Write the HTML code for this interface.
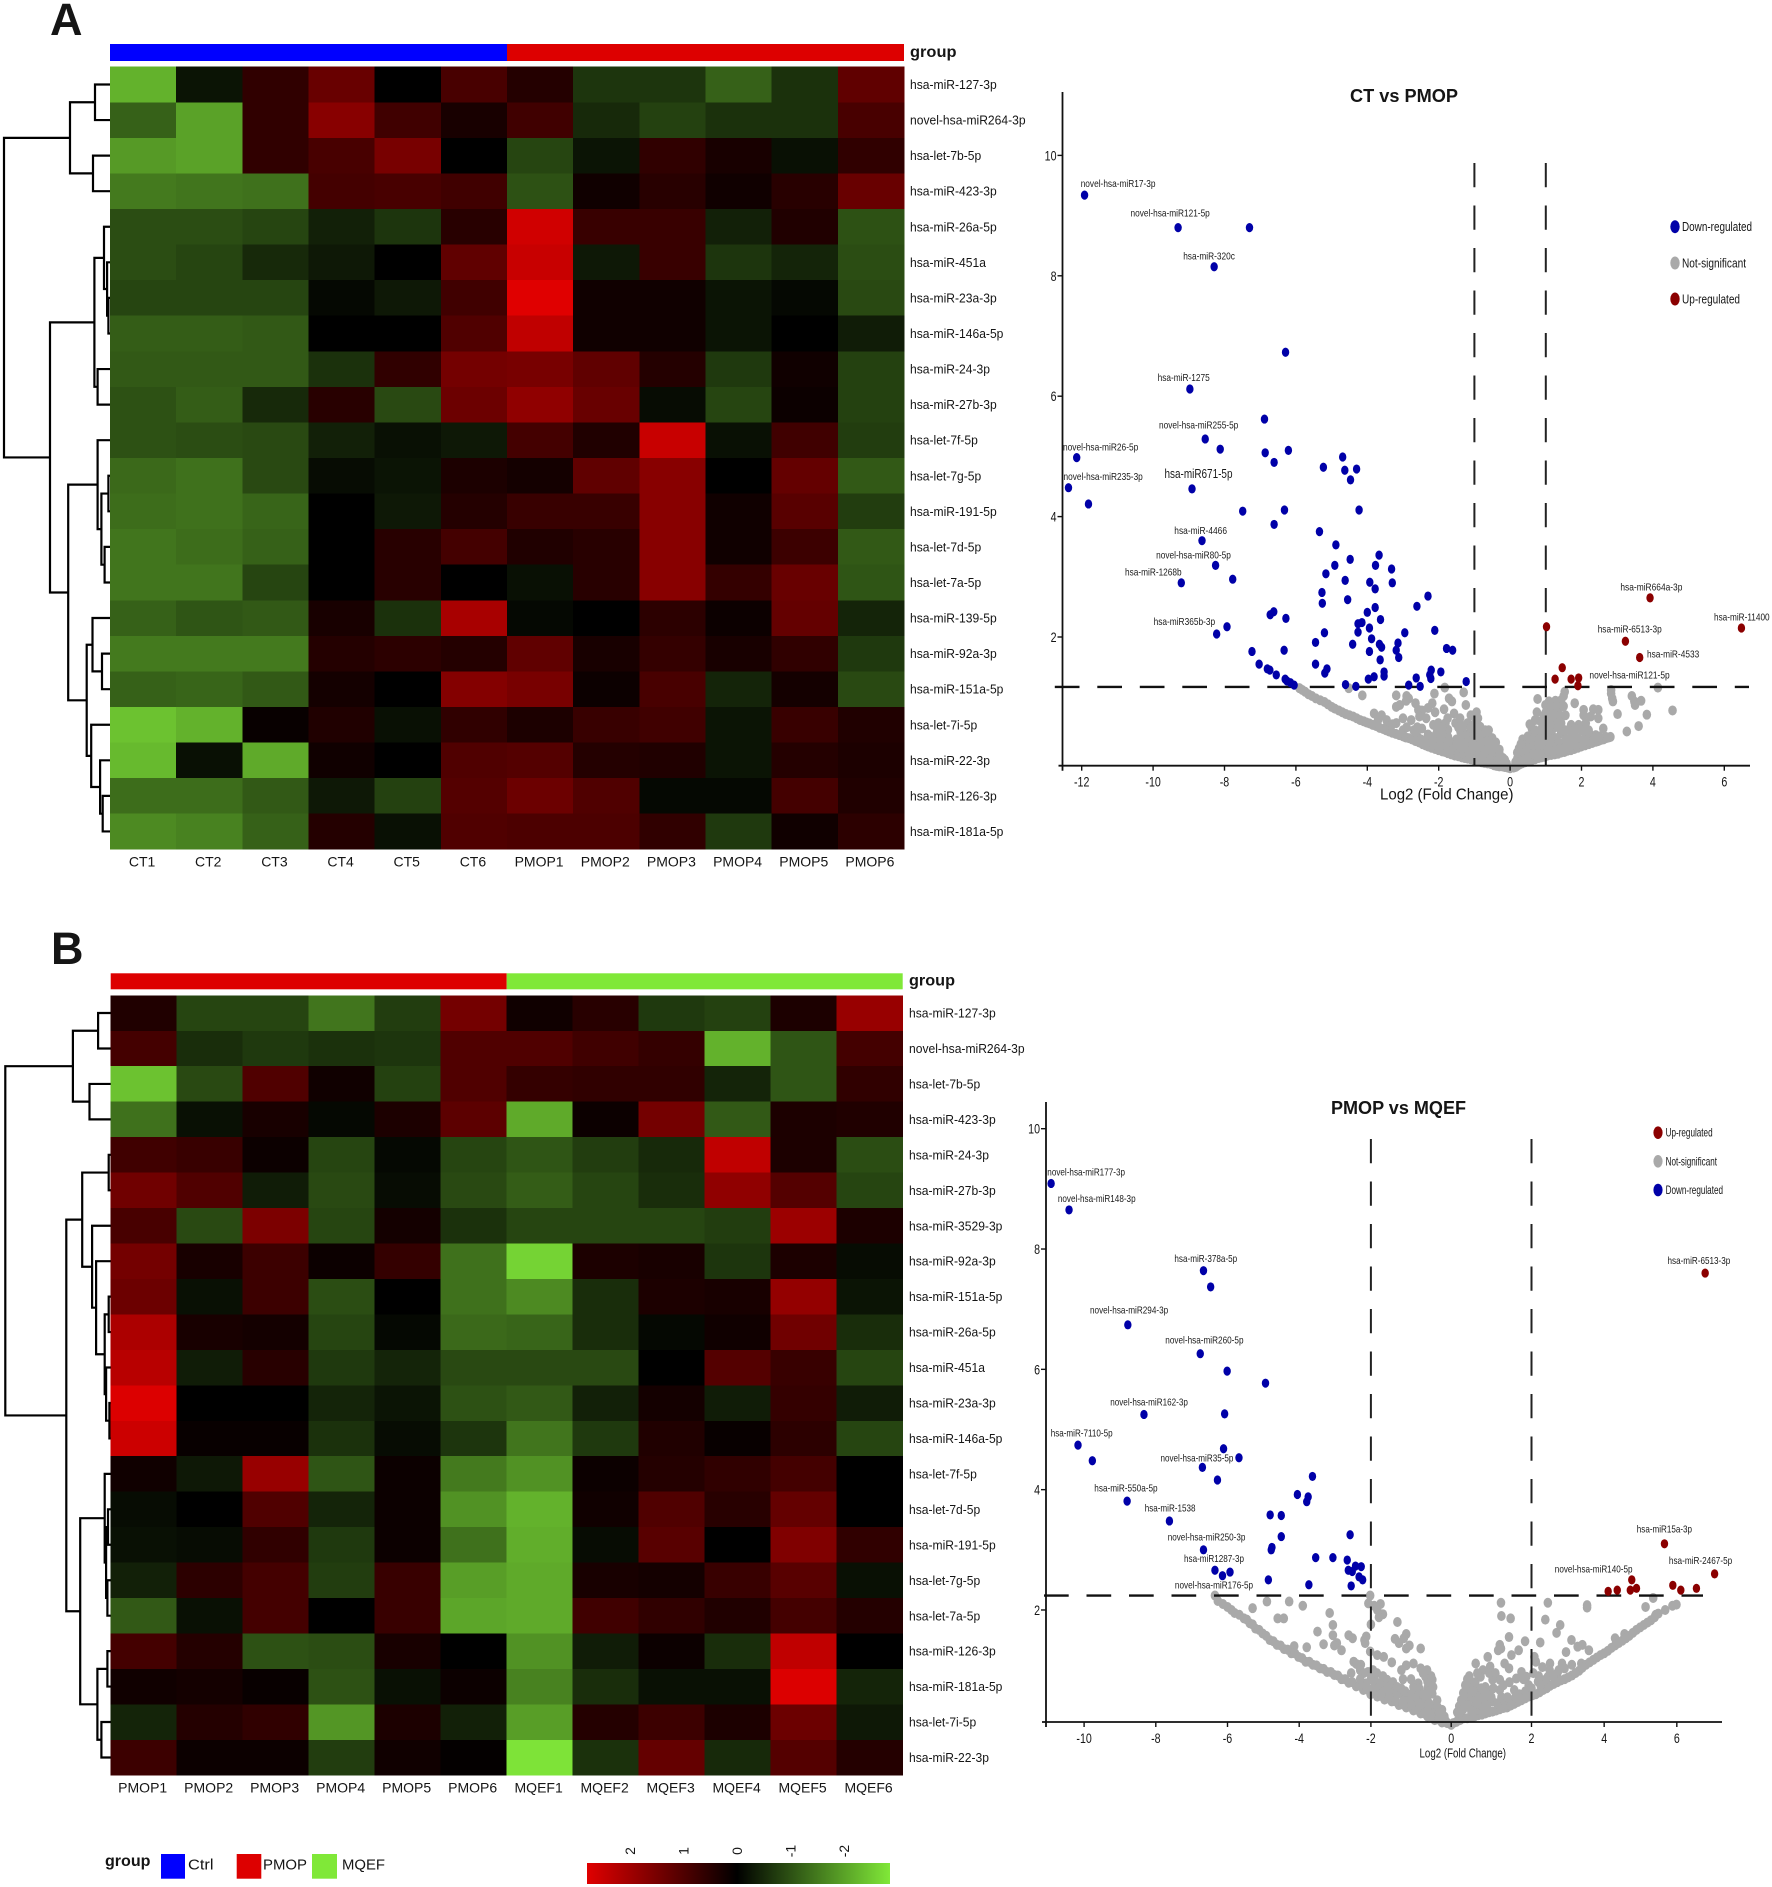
<!DOCTYPE html>
<html lang="en">
<head>
<meta charset="utf-8">
<title>miRNA heatmaps and volcano plots</title>
<style>
html,body{margin:0;padding:0;background:#fff;}
svg{display:block;}
text{font-family:"Liberation Sans",sans-serif;fill:#151515;}
.pl{font-size:10.5px;dominant-baseline:central;fill:#1a1a1a;}
.lg{dominant-baseline:central;}
</style>
</head>
<body>
<svg id="fig" xmlns="http://www.w3.org/2000/svg" width="1772" height="1887" viewBox="0 0 1772 1887">
<defs>
<linearGradient id="cbar" x1="0" x2="1" y1="0" y2="0">
<stop offset="0" stop-color="#e00000"/><stop offset="0.495" stop-color="#000"/><stop offset="1" stop-color="#80e838"/>
</linearGradient>
</defs>
<rect width="1772" height="1887" fill="#fff"/>
<text x="50" y="35" font-size="45" font-weight="bold" fill="#000">A</text>
<text x="51" y="964" font-size="45" font-weight="bold" fill="#000">B</text>

<!-- annotation bars -->
<rect x="110" y="44" width="397" height="17" fill="#0000ff"/>
<rect x="507" y="44" width="397" height="17" fill="#dd0000"/>
<text x="910" y="52.5" font-size="16" font-weight="bold" class="lg" textLength="46.5" lengthAdjust="spacingAndGlyphs">group</text>
<rect x="110.7" y="973.3" width="396" height="16" fill="#dd0000"/>
<rect x="506.7" y="973.3" width="396" height="16" fill="#80e838"/>
<text x="909" y="981" font-size="16" font-weight="bold" class="lg" textLength="46" lengthAdjust="spacingAndGlyphs">group</text>

<g id="heatA"></g>
<g id="heatB"></g>
<g id="treeA" fill="none" stroke="#000" stroke-width="2.2"></g>
<g id="treeB" fill="none" stroke="#000" stroke-width="2.2"></g>
<g id="volA"></g>
<g id="volB"></g>

<!-- volcano A text -->
<text x="1350" y="96" font-size="18" font-weight="bold" class="lg" textLength="108" lengthAdjust="spacingAndGlyphs">CT vs PMOP</text>
<text x="1380" y="795" font-size="16" class="lg" textLength="133.5" lengthAdjust="spacingAndGlyphs">Log2 (Fold Change)</text>
<g>
<ellipse cx="1675" cy="226.7" rx="4.7" ry="6.5" fill="#0000a8"/>
<ellipse cx="1675" cy="263" rx="4.7" ry="6.5" fill="#a9a9a9"/>
<ellipse cx="1675" cy="299" rx="4.7" ry="6.5" fill="#8b0000"/>
<text x="1682" y="226.7" font-size="13" class="lg" textLength="70" lengthAdjust="spacingAndGlyphs">Down-regulated</text>
<text x="1682" y="263" font-size="13" class="lg" textLength="64" lengthAdjust="spacingAndGlyphs">Not-significant</text>
<text x="1682" y="299" font-size="13" class="lg" textLength="58" lengthAdjust="spacingAndGlyphs">Up-regulated</text>
</g>
<g>
<text class="pl" x="1080.7" y="184" textLength="74.8" lengthAdjust="spacingAndGlyphs">novel-hsa-miR17-3p</text>
<text class="pl" x="1130.5" y="213.7" textLength="79.3" lengthAdjust="spacingAndGlyphs">novel-hsa-miR121-5p</text>
<text class="pl" x="1183.2" y="256.3" textLength="51.7" lengthAdjust="spacingAndGlyphs">hsa-miR-320c</text>
<text class="pl" x="1157.6" y="378" textLength="52.2" lengthAdjust="spacingAndGlyphs">hsa-miR-1275</text>
<text class="pl" x="1159" y="425.7" textLength="79.3" lengthAdjust="spacingAndGlyphs">novel-hsa-miR255-5p</text>
<text class="pl" x="1063" y="447.3" textLength="75.3" lengthAdjust="spacingAndGlyphs">novel-hsa-miR26-5p</text>
<text class="pl" x="1063.5" y="477" textLength="79.3" lengthAdjust="spacingAndGlyphs">novel-hsa-miR235-3p</text>
<text class="pl" x="1164.5" y="474" textLength="68" lengthAdjust="spacingAndGlyphs" style="font-size:12.5px">hsa-miR671-5p</text>
<text class="pl" x="1174.3" y="531" textLength="52.7" lengthAdjust="spacingAndGlyphs">hsa-miR-4466</text>
<text class="pl" x="1156.1" y="555.3" textLength="74.8" lengthAdjust="spacingAndGlyphs">novel-hsa-miR80-5p</text>
<text class="pl" x="1125" y="572.3" textLength="56.6" lengthAdjust="spacingAndGlyphs">hsa-miR-1268b</text>
<text class="pl" x="1153.6" y="622" textLength="61.5" lengthAdjust="spacingAndGlyphs">hsa-miR365b-3p</text>
<text class="pl" x="1620.4" y="587.3" textLength="62" lengthAdjust="spacingAndGlyphs">hsa-miR664a-3p</text>
<text class="pl" x="1714" y="617.3" textLength="55.6" lengthAdjust="spacingAndGlyphs">hsa-miR-11400</text>
<text class="pl" x="1597.7" y="629.3" textLength="64" lengthAdjust="spacingAndGlyphs">hsa-miR-6513-3p</text>
<text class="pl" x="1647" y="654.7" textLength="52.2" lengthAdjust="spacingAndGlyphs">hsa-miR-4533</text>
<text class="pl" x="1589.4" y="675.7" textLength="80.3" lengthAdjust="spacingAndGlyphs">novel-hsa-miR121-5p</text>
</g>

<!-- volcano B text -->
<text x="1331" y="1108" font-size="18" font-weight="bold" class="lg" textLength="135" lengthAdjust="spacingAndGlyphs">PMOP vs MQEF</text>
<text x="1419.5" y="1753" font-size="13" class="lg" textLength="86.5" lengthAdjust="spacingAndGlyphs">Log2 (Fold Change)</text>
<g>
<ellipse cx="1658" cy="1132.7" rx="4.6" ry="6.3" fill="#8b0000"/>
<ellipse cx="1658" cy="1161.3" rx="4.6" ry="6.3" fill="#a9a9a9"/>
<ellipse cx="1658" cy="1190" rx="4.6" ry="6.3" fill="#0000a8"/>
<text x="1665.6" y="1132.7" font-size="12" class="lg" textLength="47" lengthAdjust="spacingAndGlyphs">Up-regulated</text>
<text x="1665.6" y="1161.3" font-size="12" class="lg" textLength="51.4" lengthAdjust="spacingAndGlyphs">Not-significant</text>
<text x="1665.6" y="1190" font-size="12" class="lg" textLength="57.4" lengthAdjust="spacingAndGlyphs">Down-regulated</text>
</g>
<g>
<text class="pl" x="1047.3" y="1172.3" textLength="77.7" lengthAdjust="spacingAndGlyphs">novel-hsa-miR177-3p</text>
<text class="pl" x="1057.9" y="1199" textLength="77.7" lengthAdjust="spacingAndGlyphs">novel-hsa-miR148-3p</text>
<text class="pl" x="1174.4" y="1259" textLength="62.8" lengthAdjust="spacingAndGlyphs">hsa-miR-378a-5p</text>
<text class="pl" x="1090" y="1310.7" textLength="78.2" lengthAdjust="spacingAndGlyphs">novel-hsa-miR294-3p</text>
<text class="pl" x="1165.3" y="1340.7" textLength="78.2" lengthAdjust="spacingAndGlyphs">novel-hsa-miR260-5p</text>
<text class="pl" x="1110.2" y="1402.3" textLength="77.7" lengthAdjust="spacingAndGlyphs">novel-hsa-miR162-3p</text>
<text class="pl" x="1050.7" y="1433.3" textLength="61.9" lengthAdjust="spacingAndGlyphs">hsa-miR-7110-5p</text>
<text class="pl" x="1160.5" y="1458.3" textLength="72.9" lengthAdjust="spacingAndGlyphs">novel-hsa-miR35-5p</text>
<text class="pl" x="1094.3" y="1488.7" textLength="63.3" lengthAdjust="spacingAndGlyphs">hsa-miR-550a-5p</text>
<text class="pl" x="1667.5" y="1261" textLength="62.8" lengthAdjust="spacingAndGlyphs">hsa-miR-6513-3p</text>
<text class="pl" x="1144.7" y="1508.3" textLength="50.8" lengthAdjust="spacingAndGlyphs">hsa-miR-1538</text>
<text class="pl" x="1167.7" y="1537.7" textLength="77.7" lengthAdjust="spacingAndGlyphs">novel-hsa-miR250-3p</text>
<text class="pl" x="1184" y="1559" textLength="60" lengthAdjust="spacingAndGlyphs">hsa-miR1287-3p</text>
<text class="pl" x="1174.9" y="1585.3" textLength="78.2" lengthAdjust="spacingAndGlyphs">novel-hsa-miR176-5p</text>
<text class="pl" x="1636.8" y="1529.7" textLength="55.2" lengthAdjust="spacingAndGlyphs">hsa-miR15a-3p</text>
<text class="pl" x="1668.9" y="1561" textLength="63.3" lengthAdjust="spacingAndGlyphs">hsa-miR-2467-5p</text>
<text class="pl" x="1554.8" y="1569.3" textLength="77.7" lengthAdjust="spacingAndGlyphs">novel-hsa-miR140-5p</text>
</g>

<!-- bottom group legend -->
<g>
<text x="105" y="1861.7" font-size="16" font-weight="bold" class="lg" textLength="45.5" lengthAdjust="spacingAndGlyphs">group</text>
<rect x="161" y="1854" width="24" height="24.7" fill="#0000ff"/>
<text x="188" y="1865" font-size="15" class="lg" textLength="25.5" lengthAdjust="spacingAndGlyphs">Ctrl</text>
<rect x="236.7" y="1854" width="24.6" height="24.7" fill="#dd0000"/>
<text x="263" y="1865" font-size="15" class="lg" textLength="44" lengthAdjust="spacingAndGlyphs">PMOP</text>
<rect x="312" y="1854" width="25" height="24.7" fill="#80e838"/>
<text x="342" y="1865" font-size="15" class="lg" textLength="43" lengthAdjust="spacingAndGlyphs">MQEF</text>
</g>
<rect x="587" y="1863" width="303" height="21" fill="url(#cbar)"/>
<g id="cbarTicks"></g>
</svg>

<script>
// ---------- heatmap data ----------
const rowLabelsA = ["hsa-miR-127-3p","novel-hsa-miR264-3p","hsa-let-7b-5p","hsa-miR-423-3p","hsa-miR-26a-5p","hsa-miR-451a","hsa-miR-23a-3p","hsa-miR-146a-5p","hsa-miR-24-3p","hsa-miR-27b-3p","hsa-let-7f-5p","hsa-let-7g-5p","hsa-miR-191-5p","hsa-let-7d-5p","hsa-let-7a-5p","hsa-miR-139-5p","hsa-miR-92a-3p","hsa-miR-151a-5p","hsa-let-7i-5p","hsa-miR-22-3p","hsa-miR-126-3p","hsa-miR-181a-5p"];
const colLabelsA = ["CT1","CT2","CT3","CT4","CT5","CT6","PMOP1","PMOP2","PMOP3","PMOP4","PMOP5","PMOP6"];
const valuesA = [
[-2.2,-.25,.6,1.3,0,.9,.45,-.65,-.65,-1.2,-.6,1.2],
[-1.2,-2.0,.6,1.7,.8,.3,.8,-.5,-.8,-.6,-.6,.9],
[-1.9,-2.0,.6,.9,1.5,0,-.85,-.25,.6,.3,-.2,.6],
[-1.5,-1.45,-1.4,.85,.9,.8,-1.0,.2,.5,.2,.5,1.3],
[-.95,-.95,-.85,-.4,-.65,.5,2.6,.7,.7,-.4,.4,-1],
[-.95,-.85,-.5,-.3,0,1.2,2.5,-.3,.7,-.65,-.45,-.95],
[-.85,-.85,-.85,-.1,-.3,.8,2.8,.2,.2,-.25,-.1,-.9],
[-1.15,-1.15,-1.1,0,0,1.0,2.4,.2,.2,-.25,0,-.35],
[-1.1,-1.1,-1.1,-.6,.6,1.45,1.5,1.2,.45,-.7,.2,-.8],
[-1.0,-1.15,-.5,.5,-.9,1.35,1.8,1.3,-.15,-.85,.15,-.8],
[-1.0,-.95,-.9,-.4,-.2,-.3,.85,.4,2.5,-.2,.8,-.75],
[-1.3,-1.4,-.9,-.15,-.25,.35,.25,1.2,1.7,0,1.25,-1.1],
[-1.35,-1.4,-1.25,0,-.3,.45,.7,.7,1.7,.2,1.1,-.75],
[-1.45,-1.35,-1.2,0,.5,.85,.4,.5,1.7,.2,.75,-1.1],
[-1.45,-1.45,-.85,0,.5,0,-.2,.5,1.7,.65,1.3,-1.05],
[-1.2,-1.05,-1.1,.3,-.6,2.1,-.1,0,.55,.15,1.25,-.45],
[-1.5,-1.5,-1.5,.45,.55,.45,1.2,.3,.65,.3,.6,-.7],
[-1.2,-1.25,-1.1,.25,0,1.65,1.5,.15,.9,-.45,.25,-.9],
[-2.4,-2.2,.1,.4,-.2,.6,.35,.7,.8,-.25,.7,.4],
[-2.3,-.2,-2.1,.2,0,1.0,1.05,.45,.4,-.25,.45,.35],
[-1.35,-1.35,-1.1,-.3,-.8,1.05,1.35,1.0,-.1,-.1,.85,.4],
[-1.7,-1.6,-1.2,.45,-.2,1,.95,.95,.6,-.7,.2,.55]];
const rowLabelsB = ["hsa-miR-127-3p","novel-hsa-miR264-3p","hsa-let-7b-5p","hsa-miR-423-3p","hsa-miR-24-3p","hsa-miR-27b-3p","hsa-miR-3529-3p","hsa-miR-92a-3p","hsa-miR-151a-5p","hsa-miR-26a-5p","hsa-miR-451a","hsa-miR-23a-3p","hsa-miR-146a-5p","hsa-let-7f-5p","hsa-let-7d-5p","hsa-miR-191-5p","hsa-let-7g-5p","hsa-let-7a-5p","hsa-miR-126-3p","hsa-miR-181a-5p","hsa-let-7i-5p","hsa-miR-22-3p"];
const colLabelsB = ["PMOP1","PMOP2","PMOP3","PMOP4","PMOP5","PMOP6","MQEF1","MQEF2","MQEF3","MQEF4","MQEF5","MQEF6"];
const valuesB = [
[.4,-.85,-.85,-1.45,-.75,1.45,.2,.5,-.7,-.8,.35,1.9],
[.85,-.55,-.7,-.6,-.65,1.0,1.0,.8,.65,-2.2,-1.05,.85],
[-2.4,-.9,1.0,.2,-.8,1.0,.65,.6,.6,-.45,-1.05,.6],
[-1.4,-.2,.3,-.1,.35,1.15,-2.1,.15,1.45,-1.1,.35,.4],
[.8,.7,.15,-.85,-.1,-.85,-1.05,-.75,-.5,2.4,.35,-.95],
[1.4,1.0,-.35,-.9,-.15,-.9,-1.15,-.85,-.55,1.8,1.05,-.85],
[.9,-.9,1.55,-.85,.25,-.6,-.85,-.85,-.85,-.75,1.95,.35],
[1.45,.3,.75,.15,.65,-1.4,-2.6,.35,.3,-.65,.35,-.15],
[1.35,-.2,.75,-.95,0,-1.4,-1.7,-.55,.35,.3,1.85,-.25],
[2.15,.3,.25,-.85,-.1,-1.3,-1.25,-.55,-.1,.2,1.4,-.55],
[2.3,-.35,.5,-.7,-.45,-.9,-.9,-.9,0,1.05,.7,-.85],
[2.75,0,0,-.45,-.25,-1.0,-1.1,-.4,.25,-.35,.65,-.35],
[2.55,.1,.1,-.6,-.15,-.65,-1.45,-.7,.4,.1,.55,-.85],
[.2,-.3,1.9,-1.05,.15,-1.5,-1.8,.15,.45,.6,.85,0],
[-.15,0,1.0,-.45,.15,-1.8,-2.2,.2,1.0,.5,1.25,0],
[-.2,-.15,.6,-.7,.15,-1.4,-2.15,-.15,1.1,0,1.6,.6],
[-.4,.55,.85,-.75,.7,-1.95,-2.1,.3,.25,.7,1.1,-.2],
[-1.1,-.2,.85,0,.7,-2.05,-2.1,.8,.6,.4,.85,.45],
[.85,.45,-1.0,-.95,.3,0,-1.8,-.35,.15,-.55,2.4,0],
[.2,.25,.1,-1,-.2,.15,-1.6,-.55,-.2,-.2,2.75,-.45],
[-.45,.45,.6,-1.85,.35,-.4,-1.95,.45,.75,.35,1.35,-.3],
[.75,.15,.15,-.75,.2,.05,-2.8,-.6,1.25,-.5,1.05,.45]];
const colorbarTicks = [2,1,0,-1,-2];

// ---------- dendrograms: [merge distance, left, right]; numbers at leaves are row indices ----------
const treeDataA = [106,[40,[15,0,1],[17,2,3]],[60,[15.6,[6,4,[2.9,5,[1.6,6,7]]],[12.4,8,9]],[41.8,[12.4,10,[8.6,[1.6,11,12],[5.4,13,14]]],[23.3,[17.5,15,[8,16,17]],[18.8,18,[9.9,19,[7.3,20,21]]]]]]];
const treeDataB = [105.4,[37.8,[12.6,0,1],[21.2,2,3]],[44.4,[28.5,[2,4,5],[18.6,6,[14.6,7,[6,[2,8,9],[4.6,10,[1.3,11,12]]]]]],[30.5,[6,13,[4.6,[2.7,14,15],[3.3,16,17]]],[13.3,[3.3,18,19],[9.3,20,21]]]]];

// ---------- volcano A data: [log2FC, -log10 p] ----------
const xTicksA = [-12,-10,-8,-6,-4,-2,0,2,4,6];
const yTicksA = [2,4,6,8,10];
const xCutsA = [-1,1];
const yCutA = 1.17;
const downA = [[-11.92,9.34],[-9.3,8.8],[-7.3,8.8],[-8.29,8.15],[-6.29,6.73],[-8.97,6.12],[-6.88,5.62],[-8.54,5.29],[-8.12,5.12],[-6.86,5.06],[-6.21,5.1],[-12.14,4.98],[-6.61,4.9],[-4.69,4.99],[-5.23,4.82],[-4.63,4.77],[-4.3,4.79],[-4.47,4.61],[-12.37,4.48],[-8.91,4.46],[-11.81,4.21],[-7.49,4.09],[-6.32,4.11],[-4.23,4.11],[-6.61,3.87],[-5.34,3.75],[-8.63,3.6],[-4.88,3.53],[-3.67,3.36],[-4.48,3.29],[-8.25,3.19],[-4.91,3.19],[-3.77,3.19],[-3.32,3.13],[-5.16,3.05],[-4.62,2.94],[-7.77,2.96],[-3.93,2.91],[-3.3,2.9],[-9.21,2.9],[-3.78,2.8],[-5.27,2.74],[-2.3,2.68],[-4.55,2.62],[-5.26,2.56],[-2.61,2.51],[-3.78,2.49],[-4,2.41],[-6.62,2.42],[-6.72,2.37],[-6.28,2.31],[-3.63,2.29],[-4.15,2.24],[-4.26,2.22],[-7.93,2.17],[-3.94,2.15],[-2.11,2.11],[-4.26,2.08],[-5.2,2.07],[-2.95,2.07],[-8.22,2.05],[-3.88,1.97],[-3.14,1.9],[-5.45,1.91],[-4.41,1.88],[-3.66,1.88],[-3.6,1.83],[-1.78,1.81],[-1.61,1.78],[-3.19,1.78],[-7.23,1.76],[-6.33,1.78],[-3.94,1.76],[-3.12,1.66],[-3.64,1.62],[-7.03,1.55],[-5.45,1.55],[-6.8,1.47],[-5.13,1.47],[-6.73,1.45],[-5.19,1.4],[-6.55,1.37],[-3.53,1.42],[-3.53,1.35],[-2.21,1.45],[-1.94,1.42],[-2.25,1.37],[-2.22,1.31],[-3.81,1.34],[-3.97,1.3],[-2.63,1.32],[-1.23,1.26],[-6.3,1.3],[-6.25,1.27],[-6.15,1.24],[-6.05,1.2],[-2.84,1.2],[-2.52,1.18],[-4.61,1.21],[-4.32,1.18]];
const upA = [[1.02,2.17],[3.92,2.65],[6.48,2.15],[3.23,1.93],[3.63,1.66],[1.46,1.49],[1.26,1.3],[1.71,1.3],[1.92,1.32],[1.9,1.19]];
const nsA = [[-5.9,1.15],[-5.74,1.09],[-5.55,1.02],[-5.32,.95],[-5.1,.88],[-4.91,.81],[-4.7,.75],[-4.5,.7],[-4.3,.65],[-4.1,.6],[-3.94,.565],[-3.75,.52],[-3.55,.47],[-3.39,.43],[-3.2,.39],[-3,.35],[-2.84,.32],[-2.65,.27],[-2.45,.22],[-2.29,.18],[-2.1,.14],[-1.9,.1],[-1.74,.07],[-1.55,.03],[-1.35,0],[-1.19,-.02],[-1,-.05],[-.8,-.08],[-.63,-.1],[-.45,-.13],[-.3,-.15],[-.15,-.16],[0,-.18],
[-4.52,1.15],[-4.14,1.03],[-3.19,1.03],[-2.84,.98],[-2.91,.94],[-3.09,.87],[-3.19,.84],[-2.12,1.06],[-1.83,1.16],[-1.71,.98],[-1.63,.93],[-1.3,1.08],[-1.24,.87],[-.94,.75],[-3.81,.73],[-2.57,.79],[-2.47,.78],[-2.18,.9],[-2.54,.68],[-2.77,.62],[-2.47,.48],[-3.46,.62],[-3.46,.51],[-3.19,.57],[-2.15,.54],[-2.01,.57],[-1.81,.57],[-1.57,.73],[-1.53,.57],[-1.19,.57],[-.84,.51],[-.98,.57],[-.7,.34],[-.5,.32],[-1.32,.29],[-1.74,.34],[-2.01,.34],[-2.22,.34],[-2.15,.23],[-1.88,.18],[-1.6,.18],[-1.19,.15],[-.91,.12],[-.5,.07],[-.36,.01],[-.22,-.02],[-1.05,.34],[-1.39,.43],[-1.74,.46],
[-1.5,.1],[-1.3,.1],[-1.1,.05],[-.9,.05],[-.7,0],[-.7,.15],[-.9,.25],[-1.1,.25],[-1.5,.3],[-1.3,.4],[-.8,.4],[-.6,.2],[-.4,.15],[-2,.2],[-1.8,.25],[-2.4,.28],[-2.6,.35],[-1,.45],[-.6,.35],
[-5.82,1.12],[-5.65,1.05],[-5.44,.98],[-5.2,.92],[-5,.84],[-4.8,.78],[-4.6,.72],[-4.4,.68],[-4.2,.62],[-4.02,.58],[-3.85,.54],[-3.65,.49],[-3.47,.45],[-3.3,.41],[-3.1,.37],[-2.92,.33],[-2.75,.3],[-2.55,.25],[-2.37,.2],[-2.2,.16],[-2,.12],[-1.82,.09],[-1.65,.05],[-1.45,.02],[-1.27,-.01],[-1.1,-.03],[-.9,-.06],[-.72,-.09],[-.54,-.11],[-.38,-.14],[-.22,-.15],[-.07,-.17],
[-2.6,.32],[-2.5,.3],[-2.35,.28],[-2.2,.25],[-2.05,.22],[-1.9,.2],[-1.75,.17],[-1.6,.13],[-1.45,.1],[-1.3,.07],[-1.15,.05],[-1,.03],[-.85,.01],[-.7,-.01],[-.55,-.03],[-.4,-.05],[-.25,-.07],[-.1,-.1],
[-2.3,.38],[-2.1,.32],[-1.95,.3],[-1.7,.27],[-1.5,.22],[-1.35,.18],[-1.2,.15],[-1.05,.13],[-.85,.11],[-.65,.08],[-.5,.04],[-.35,0],[-.2,-.01],
[-2.05,.42],[-1.9,.4],[-1.2,.25],[-1.05,.22],[-.95,.18],[-.8,.18],[-.6,.13],[-.45,.1],[-.3,.06],[-.15,-.04],[-.75,.28],[-.65,.27],[-.5,.22],[-.4,.25],[-.3,.13],[-1.2,.38],[-1.1,.42],[-.95,.37],[-.85,.34],[-.7,.45],[-.6,.45],[-1.45,.5],[-1.3,.52],[-1.1,.5],[-.9,.48],[-2.7,.45],[-2.6,.5],[-3,.45],[-2.9,.5],[-3.3,.55],[-1.9,.5],[-.9,.65],[-1.1,.7],[-1.4,.65],[-1.75,.65],[-1.85,.8],[-2.1,.75],[-2.35,.65],[-2.3,.82],[-3,.65],[-2.65,.9],[-3.6,.7],[-3.7,.62],[-2.9,1.02],
[.1,-.17],[.2,-.14],[.33,-.1],[.5,-.07],[.7,-.03],[.88,0],[1.05,.03],[1.25,.05],[1.43,.08],[1.6,.11],[1.8,.14],[1.99,.18],[2.2,.22],[2.4,.26],[2.54,.29],[2.7,.32],[2.81,.34],
[2.83,1.12],[2.83,1.06],[2.86,.98],[2.88,.93],[3.41,1.02],[3.48,.93],[3.67,.94],[3.5,.87],[4.14,1.16],[4.55,.78],[3.83,.71],[3.01,.72],[3.6,.52],[3.27,.43],[.77,.97],[1.09,.93],[1.27,.94],[1.43,.95],[1.53,1.09],[1.5,1.02],[1.81,.9],[.99,.87],[1.09,.79],[1.23,.76],[1.37,.81],[.7,.62],[.95,.7],[2.06,.79],[2.06,.7],[2.33,.8],[2.47,.79],[2.26,.68],[2.47,.65],[2.61,.48],[2.12,.57],[1.92,.54],[1.71,.54],[1.43,.57],[1.23,.57],[.95,.54],[.61,.48],[.58,.37],[.88,.4],[1.16,.4],[1.43,.4],[1.78,.37],[2.12,.37],[2.4,.37],[2.68,.34],
[.3,.1],[.4,.2],[.5,.05],[.6,.15],[.7,.25],[.75,.1],[.9,.15],[1,.28],[1.1,.12],[1.25,.2],[1.3,.32],[1.45,.22],[1.6,.25],[1.8,.25],[2,.28],[.2,-.02],[.35,.3],[.5,.35],[.85,.35],[.15,-.08],[.3,-.03],
[.15,-.16],[.26,-.12],[.42,-.08],[.6,-.05],[.8,-.01],[.97,.01],[1.15,.04],[1.34,.06],[1.52,.09],[1.7,.12],[1.9,.16],[2.1,.2],[2.3,.24],[2.47,.27],[2.62,.3],[2.76,.33],
[.2,.08],[.25,.15],[.3,.22],[.4,.08],[.45,0],[.45,.12],[.55,0],[.55,.25],[.6,.3],[.65,.05],[.65,.2],[.7,.35],[.8,.05],[.8,.18],[.8,.3],[.85,.45],[.95,.08],[.95,.22],[1,.38],[1.05,.12],[1.15,.2],[1.15,.3],[1.2,.1],[1.3,.14],[1.35,.25],[1.4,.15],[1.5,.15],[1.55,.3],[1.65,.18],[1.7,.32],[1.85,.2],[1.9,.32],[2.05,.25],[2.2,.3],[2.25,.37],[2.35,.32],[2.5,.35],[.7,.45],[.55,.55],[.85,.6],[1,.6],[1.1,.65],[1.3,.65],[1.55,.45],[1.65,.45],[1.85,.47],[2,.45],[2.2,.45],[1.2,.48],[1.35,.5],[1.1,.5],[.75,.75],[1,.75],[1.15,.85],[1.3,.85],[1.4,.7],[1.5,.85],[1.55,.7]];

// ---------- volcano B data ----------
const xTicksB = [-10,-8,-6,-4,-2,0,2,4,6];
const yTicksB = [2,4,6,8,10];
const xCutsB = [-2,2];
const yCutB = 2.24;
const downB = [[-10.92,9.09],[-10.42,8.65],[-6.67,7.64],[-6.47,7.37],[-8.78,6.74],[-6.76,6.26],[-6.01,5.97],[-4.94,5.77],[-8.33,5.25],[-6.08,5.26],[-10.17,4.74],[-6.11,4.68],[-5.68,4.53],[-9.77,4.48],[-6.7,4.37],[-6.28,4.16],[-3.63,4.22],[-4.05,3.92],[-3.75,3.88],[-3.79,3.8],[-8.8,3.81],[-7.62,3.48],[-4.81,3.58],[-4.5,3.57],[-4.5,3.22],[-2.58,3.25],[-4.76,3.04],[-4.78,3],[-6.67,3],[-3.54,2.87],[-3.06,2.87],[-2.66,2.83],[-2.43,2.73],[-2.27,2.72],[-2.63,2.66],[-2.52,2.64],[-6.35,2.66],[-5.93,2.63],[-6.14,2.57],[-2.33,2.55],[-2.23,2.5],[-4.86,2.5],[-3.73,2.42],[-2.55,2.4]];
const upB = [[6.78,7.6],[5.66,3.1],[7.04,2.6],[4.76,2.5],[4.89,2.36],[4.72,2.33],[4.36,2.33],[4.11,2.31],[5.89,2.41],[6.11,2.33],[6.54,2.36]];
const nsB = [[-6.35,2.24],[-6.27,2.15],[-6,2.05],[-5.89,2],[-5.8,1.95],[-5.54,1.86],[-5.38,1.78],[-5.22,1.69],[-5.02,1.61],[-4.82,1.5],[-4.62,1.42],[-4.42,1.35],[-4.22,1.28],[-4.02,1.22],[-3.82,1.14],[-3.62,1.09],[-3.42,1.03],[-3.22,.97],[-3.02,.92],[-2.82,.85],[-2.62,.79],[-2.41,.73],[-2.21,.67],[-2.01,.6],[-1.84,.56],[-1.66,.51],[-1.48,.48],[-1.3,.42],[-1.12,.38],[-.94,.33],[-.76,.28],[-.59,.23],[-.41,.17],[-.23,.13],[0,.09],
[-2.48,1.14],[-2.28,1.09],[-2.08,.97],[-1.92,.89],[-1.78,.78],[-1.6,.84],[-1.54,.73],[-1.3,.61],[-1.06,.53],[-.82,.61],[-.59,.7],[-.47,.84],[-.76,1.03],[-.94,1.11],[-1.24,1],[-1.12,1.08],[-1.48,1.13],[-1.68,1.22],[-1.84,1.25],[-2.02,1.31],[-2.16,1.45],[-2.18,1.5],[-2.13,1.56],[-2.51,1.53],[-2.62,1.58],[-2.82,1.33],[-2.95,1.45],[-3.02,1.41],[-3.06,1.58],[-3.06,1.75],[-3.32,1.43],[-3.49,1.64],[-3.79,1.38],[-3.15,1.95],[-4.14,1.4],
[-2.02,2.24],[-2.07,2.11],[-1.92,2.07],[-1.76,2.1],[-1.84,2],[-1.7,1.93],[-1.8,1.88],[-2,1.76],[-1.34,1.8],[-1.12,1.6],[-1.18,1.53],[-1.4,1.52],[-1.3,1.45],[-1.04,1.41],[-.76,1.36],[-1.12,1.36],[-3.9,2.07],[-4.28,2.14],[-4.9,2.14],[-5.3,2.03],[-4.6,1.86],[-4.43,1.86],
[-.47,.61],[-.59,.56],[-.7,.5],[-.94,.5],[-1.18,.56],[-1.42,.67],[-1.66,.73],[-1.9,.83],[-2.14,.78],[-.35,.5],[-.23,.34],[-.47,.34],[-.7,.39],[-.94,.72],[-.82,.78],[-.59,.81],[-.64,.89],[-1.6,.61],[-1.84,.7],[-.17,.23],[-.35,.28],
[-6.13,2.1],[-5.67,1.92],[-5.46,1.84],[-5.3,1.76],[-5.12,1.67],[-4.92,1.57],[-4.72,1.48],[-4.52,1.41],[-4.32,1.34],[-4.12,1.28],[-3.92,1.2],[-3.72,1.14],[-3.52,1.08],[-3.32,1.02],[-3.12,.97],[-2.92,.91],[-2.72,.85],[-2.52,.8],[-2.32,.74],[-2.11,.68],[-1.92,.62],[-1.75,.57],[-1.57,.53],[-1.39,.48],[-1.21,.43],[-1.03,.39],[-.85,.34],[-.67,.28],[-.5,.23],[-.32,.18],[-.12,.14],
[-2.4,1.1],[-2.3,1],[-2.2,.95],[-2,.85],[-1.95,1],[-1.85,.95],[-1.7,.9],[-1.75,.68],[-1.65,.65],[-1.5,.62],[-1.45,.8],[-1.35,.72],[-1.25,.7],[-1.15,.65],[-1.1,.48],[-1,.6],[-.9,.42],[-.85,.55],[-.8,.7],[-.7,.6],[-.65,.42],[-.55,.45],[-.5,.35],[-.4,.4],[-.3,.3],[-.25,.22],[-.15,.17],[-.1,.12],[-.55,.65],[-.45,.72],[-.5,.9],[-.6,1],[-.7,.95],[-1,.85],[-1.2,.85],[-1.4,.55],[-1.55,.55],[-1.75,.6],[-1.95,.7],[-2.3,.85],[-2.55,.95],[-.8,.45],[-1,.42],[-1.2,.48],[-.35,.4],[-.6,.32],
[.13,.14],[.31,.2],[.49,.21],[.67,.25],[.85,.28],[1.03,.31],[1.21,.35],[1.39,.38],[1.57,.44],[1.75,.5],[1.93,.56],[2.12,.6],[2.32,.67],[2.51,.74],[2.71,.8],[2.91,.85],[3.11,.91],[3.31,.99],[3.5,1.09],[3.7,1.17],[3.9,1.25],[4.1,1.32],[4.3,1.41],[4.5,1.49],[4.69,1.57],[4.89,1.67],[5.09,1.75],[5.29,1.83],[5.49,1.94],[5.68,2],[5.88,2.07],[5.99,2.09],
[5.35,2.2],[5.14,2.05],[5.42,1.92],[3.53,2.04],[3.53,2.08],[2.45,2.12],[1.24,2.12],[1.25,1.9],[1.48,1.86],[2.38,1.84],[2.79,1.75],[2.69,1.62],[1.44,1.55],[1.84,1.48],[2.24,1.46],[3.1,1.5],[3.27,1.39],[3.4,1.42],[3.58,1.33],[2.95,1.3],[1.21,1.42],[1.24,1.36],[1.17,1.33],[1.68,1.33],[1.5,1.25],[2.08,1.22],[2.12,1.14],[2.51,1.11],[.91,1.22],[.61,1.11],[1.33,1.11],[1.44,1.03],[.97,1.06],[.79,1],[1.75,.97],[1.87,.89],[1.62,.86],[1.21,.84],[1.03,.84],[.73,.89],[.55,.78],[.43,.7],[.61,.67],[.85,.72],[1.21,.67],[1.57,.67],[1.93,.75],[2.18,.81],[2.84,1.11],[2.91,1.03],[3.11,1.09],[3.37,1.11],[4.3,1.53],[4.56,1.6],[.31,.5],[.43,.56],[.25,.34],[.49,.39],[.73,.45],[1.03,.48],[1.33,.5],[.79,.61],[.61,.5],[.19,.25],[2.38,.84],[2.71,.95],[2.45,.89],
[.05,.12],[.22,.17],[.4,.2],[.58,.23],[.76,.26],[.94,.3],[1.12,.33],[1.3,.37],[1.48,.41],[1.66,.47],[1.84,.53],[2.02,.58],[2.22,.63],[2.42,.7],[2.61,.77],[2.81,.83],[3.01,.88],[3.21,.95],[3.4,1.04],[3.6,1.13],[3.8,1.21],[4,1.28],[4.2,1.37],[4.4,1.45],[4.6,1.53],[4.79,1.62],[4.99,1.71],[5.19,1.79],[5.39,1.88],
[.2,.4],[.25,.5],[.3,.62],[.35,.75],[.4,.85],[.45,.9],[.5,.55],[.5,.32],[.55,.65],[.6,.8],[.65,.95],[.65,.35],[.7,.55],[.75,.7],[.8,.38],[.85,.5],[.9,.62],[.95,.95],[.9,.42],[1,.55],[1.05,.7],[1.1,.95],[1.15,.45],[1.25,.55],[1.3,.75],[1.4,.55],[1.45,.8],[1.5,.48],[1.6,.55],[1.7,.6],[1.8,.85],[1.85,.65],[2,.7],[2.25,.75],[2.05,.95],[2.2,.9],[.15,.3],[.3,.35],[.4,.42],[.65,.45],[2.6,.9],[2.5,1],[2.3,1.05],[2.75,1]];

// ---------- helpers ----------
const NS = "http://www.w3.org/2000/svg";
function make(tag, attrs, parent) {
  const el = document.createElementNS(NS, tag);
  for (const k in attrs) el.setAttribute(k, attrs[k]);
  if (parent) parent.appendChild(el);
  return el;
}
function heatColor(v) {
  if (v >= 0) return "rgb(" + Math.min(224, Math.round(80 * v)) + ",0,0)";
  const a = -v;
  return "rgb(" + Math.round(45 * a) + "," + Math.min(232, Math.round(81 * a)) + "," + Math.round(20 * a) + ")";
}
function squeeze(el, factor) {
  el.setAttribute("textLength", (el.getComputedTextLength() * factor).toFixed(2));
  el.setAttribute("lengthAdjust", "spacingAndGlyphs");
}

// ---------- heatmap ----------
function drawHeatmap(g, values, rows, cols, left, right, top, bottom, labelX, colLabelY) {
  const cw = (right - left) / cols.length;
  const rh = (bottom - top) / rows.length;
  values.forEach(function (row, r) {
    row.forEach(function (v, c) {
      const cell = make("rect", {x: left + c * cw, y: top + r * rh, width: cw + 0.4, height: rh + 0.4, fill: heatColor(v), "shape-rendering": "crispEdges"}, g);
      
      
    });
  });
  rows.forEach(function (name, r) {
    const t = make("text", {x: labelX, y: top + (r + 0.5) * rh, "font-size": 13, "dominant-baseline": "central"}, g);
    t.textContent = name;
    
    
    squeeze(t, 0.93);
  });
  cols.forEach(function (name, c) {
    const t = make("text", {x: left + (c + 0.5) * cw - 1, y: colLabelY, "font-size": 14, "text-anchor": "middle", "dominant-baseline": "central"}, g);
    t.textContent = name;
    
    
    squeeze(t, 1.0);
  });
}
drawHeatmap(document.getElementById("heatA"), valuesA, rowLabelsA, colLabelsA, 110, 904, 66.7, 849.3, 910, 861.7);
drawHeatmap(document.getElementById("heatB"), valuesB, rowLabelsB, colLabelsB, 110.7, 902.6, 995.3, 1775.3, 909, 1787.7);

// ---------- dendrograms ----------
function drawTree(node, g, leafX, rowY) {
  if (typeof node === "number") return {x: leafX, y: rowY(node)};
  const a = drawTree(node[1], g, leafX, rowY);
  const b = drawTree(node[2], g, leafX, rowY);
  const x = leafX - node[0];
  const p = make("path", {d: "M" + a.x + " " + a.y + "H" + x + "V" + b.y + "H" + b.x}, g);
  
  
  return {x: x, y: (a.y + b.y) / 2};
}
drawTree(treeDataA, document.getElementById("treeA"), 110, function (i) { return 66.7 + 35.57 * (i + 0.5); });
drawTree(treeDataB, document.getElementById("treeB"), 110.7, function (i) { return 995.3 + 35.45 * (i + 0.5); });

// ---------- colorbar ticks ----------
const cbarG = document.getElementById("cbarTicks");
colorbarTicks.forEach(function (v) {
  const x = 737 - 53.5 * v;
  const t = make("text", {x: x, y: 1851, "font-size": 14, "text-anchor": "middle", "dominant-baseline": "central", transform: "rotate(-90 " + x + " 1851)"}, cbarG);
  t.textContent = String(v);
  
  
});

// ---------- volcano ----------
function drawVolcano(g, o) {
  const X = o.x, Y = o.y;
  o.ns.forEach(function (d) {
    const m = make("ellipse", {cx: X(d[0]), cy: Y(d[1]), rx: 4.3, ry: 5, fill: "#a9a9a9"}, g);
    
    
  });
  const dashV = "24.3 18.2";
  o.xCuts.forEach(function (c) {
    const l = make("line", {x1: X(c), x2: X(c), y1: o.vTop, y2: o.axisY, stroke: "#222", "stroke-width": 2, "stroke-dasharray": dashV}, g);
    
    
  });
  const h = make("line", {x1: o.hLeft, x2: o.hRight, y1: Y(o.yCut), y2: Y(o.yCut), stroke: "#111", "stroke-width": 2.4, "stroke-dasharray": "24.7 17.8"}, g);
  
  
  const ya = make("line", {x1: o.axisX, x2: o.axisX, y1: o.axisTop, y2: o.axisY + 5, stroke: "#111", "stroke-width": 1.8}, g);
  
  
  const xa = make("line", {x1: o.axisX - 4, x2: o.axisRight, y1: o.axisY, y2: o.axisY, stroke: "#111", "stroke-width": 1.8}, g);
  
  
  o.xTicks.forEach(function (v) {
    const tk = make("line", {x1: X(v), x2: X(v), y1: o.axisY, y2: o.axisY + 5, stroke: "#111", "stroke-width": 1.4}, g);
    
    
    const t = make("text", {x: X(v), y: o.axisY + 16, "font-size": 14, "text-anchor": "middle", "dominant-baseline": "central"}, g);
    t.textContent = String(v);
    
    
    squeeze(t, 0.76);
  });
  o.yTicks.forEach(function (v) {
    const tk = make("line", {x1: o.axisX - 5, x2: o.axisX, y1: Y(v), y2: Y(v), stroke: "#111", "stroke-width": 1.4}, g);
    
    
    const t = make("text", {x: o.axisX - 6, y: Y(v), "font-size": 14, "text-anchor": "end", "dominant-baseline": "central"}, g);
    t.textContent = String(v);
    
    
    squeeze(t, 0.76);
  });
  o.down.forEach(function (d) {
    const m = make("ellipse", {cx: X(d[0]), cy: Y(d[1]), rx: 3.7, ry: 4.6, fill: "#0000a8"}, g);
    
    
  });
  o.up.forEach(function (d) {
    const m = make("ellipse", {cx: X(d[0]), cy: Y(d[1]), rx: 3.7, ry: 4.6, fill: "#8b0000"}, g);
    
    
  });
}
function xScaleA(v) { return 1510.1 + 35.7 * v; }
function yScaleA(v) { return 757.4 - 60.2 * v; }
function xScaleB(v) {
  if (v < -2) return 1370.9 + 35.85 * (v + 2);
  if (v > 2) return 1531.5 + 36.33 * (v - 2);
  return 1451.2 + 40.15 * v;
}
function yScaleB(v) { return 1730.3 - 60.16 * v; }
drawVolcano(document.getElementById("volA"), {x: xScaleA, y: yScaleA, ns: nsA, down: downA, up: upA, xTicks: xTicksA, yTicks: yTicksA, xCuts: xCutsA, yCut: yCutA, vTop: 163, axisY: 765.7, axisX: 1062.5, axisTop: 92, axisRight: 1750, hLeft: 1054.8, hRight: 1749});
drawVolcano(document.getElementById("volB"), {x: xScaleB, y: yScaleB, ns: nsB, down: downB, up: upB, xTicks: xTicksB, yTicks: yTicksB, xCuts: xCutsB, yCut: yCutB, vTop: 1139, axisY: 1722, axisX: 1046, axisTop: 1102, axisRight: 1722, hLeft: 1044, hRight: 1703});
</script>
</body>
</html>
